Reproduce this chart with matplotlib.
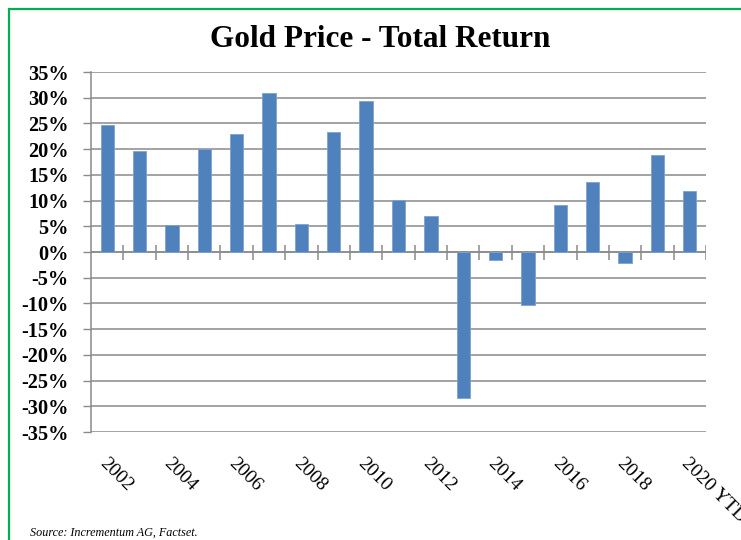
import matplotlib
matplotlib.use("Agg")
import matplotlib.pyplot as plt
import matplotlib.transforms as mtransforms
from matplotlib.patches import Rectangle
import numpy as np

years = ["2002", "2003", "2004", "2005", "2006", "2007", "2008", "2009", "2010",
         "2011", "2012", "2013", "2014", "2015", "2016", "2017", "2018", "2019",
         "2020 YTD"]
returns = [24.6, 19.6, 5.2, 20.0, 23.0, 30.9, 5.5, 23.3, 29.4, 10.1, 7.0,
           -28.4, -1.5, -10.4, 9.1, 13.6, -2.2, 18.9, 11.9]
y_ticks = list(range(-35, 40, 5))
title = "Gold Price - Total Return"
source = "Source: Incrementum AG, Factset."

serif = ["Liberation Serif", "DejaVu Serif"]
grid_c = "#8a8a8a"
bar_c = "#4F81BD"

fig = plt.figure(figsize=(7.41, 5.40), dpi=100)
ax = fig.add_axes([91/741, 1-432/540, (706-91)/741, 360/540])

x = np.arange(len(years))
ax.bar(x, returns, width=0.41, color=bar_c, edgecolor="#7fa2cf", linewidth=0.6, zorder=3)

ax.set_xlim(-0.5, len(years) - 0.5)
ax.set_ylim(-35, 35)
ax.set_yticks(y_ticks)
ax.set_yticklabels([f"{v}%" for v in y_ticks], fontfamily=serif, fontweight="bold", fontsize=14.6)
ax.tick_params(axis="y", direction="out", length=6, width=1, color=grid_c, pad=10)
ax.yaxis.grid(True, color=grid_c, linewidth=1.1, zorder=0)
ax.set_axisbelow(True)
for s in ["top", "right", "bottom"]:
    ax.spines[s].set_visible(False)
ax.spines["left"].set_color(grid_c)
ax.spines["left"].set_linewidth(1.1)

# zero axis with boundary ticks
ax.set_xticks([])
ax.axhline(0, color=grid_c, linewidth=1.1, zorder=2)
ax.vlines(np.arange(1, len(years) + 1) - 0.5, -1.55, 1.4, color=grid_c, linewidth=1.1, zorder=2)

# category labels (every other one) below the plot
trans = mtransforms.blended_transform_factory(ax.transData, ax.transAxes)
for i in range(0, len(years), 2):
    ax.text(x[i] + 0.02, -0.062, years[i], transform=trans, rotation=-45,
            rotation_mode="anchor", ha="left", va="top", fontsize=14,
            fontfamily=serif, clip_on=False)

fig.text(0.5135, 0.927, title, ha="center", va="center", fontsize=22.5,
         fontweight="bold", fontfamily=serif)
fig.text(30/741, 1-536/540, source, ha="left", va="baseline", fontsize=8.7,
         fontstyle="italic", fontfamily=serif)

# green frame
fig.patches.append(Rectangle((9/741, -0.2), 1.2, 1.2 - 8.5/540,
                             transform=fig.transFigure, fill=False,
                             edgecolor="#00B050", linewidth=1.6))

fig.savefig("out.png", dpi=100)
